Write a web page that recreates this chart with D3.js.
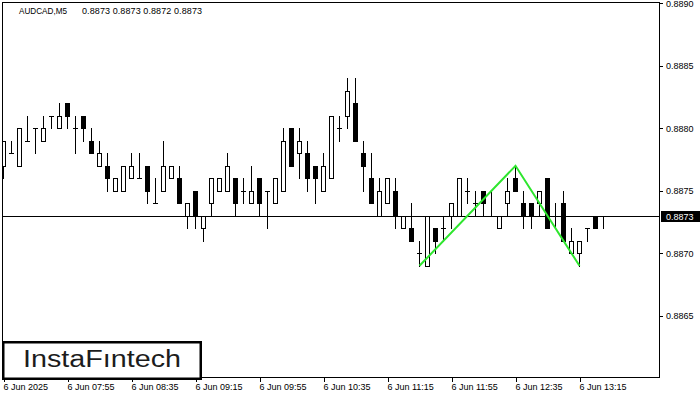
<!DOCTYPE html>
<html><head><meta charset="utf-8">
<script src="https://cdnjs.cloudflare.com/ajax/libs/d3/7.8.5/d3.min.js"></script>
<style>
html,body{margin:0;padding:0;background:#fff;}
svg{display:block;}
text{font-family:"Liberation Sans",Arial,sans-serif;}
</style></head><body>
<svg id="chart" width="700" height="400"></svg>
<script>
const chartSymbol = "AUDCAD,M5";
const chartOHLC = "0.8873 0.8873 0.8872 0.8873";
const opens  = [0.8877,0.8878,0.8877,0.8879,0.8880,0.8879,0.8881,0.8880,0.8882,0.8880,
                0.8881,0.8879,0.8877,0.8877,0.8875,0.8875,0.8876,0.8876,0.8877,0.8874,
                0.8875,0.8876,0.8876,0.8873,0.8875,0.8872,0.8874,0.8875,0.8875,0.8876,
                0.8875,0.8874,0.8876,0.8875,0.8874,0.8875,0.8880,0.8878,0.8878,0.8877,
                0.8875,0.8876,0.8880,0.8881,0.8882,0.8878,0.8876,0.8873,0.8874,0.8875,
                0.8872,0.8872,0.8870,0.8869,0.8872,0.8872,0.8873,0.8873,0.8875,0.8874,
                0.8875,0.8873,0.8872,0.8874,0.8876,0.8874,0.8874,0.8874,0.8876,0.8873,
                0.8874,0.8870,0.8870,0.8872,0.8873,0.8873];
const highs  = [0.8879,0.8879,0.8880,0.8881,0.8880,0.8881,0.8881,0.8882,0.8882,0.8881,
                0.8881,0.8880,0.8879,0.8878,0.8876,0.8877,0.8878,0.8878,0.8877,0.8876,
                0.8879,0.8877,0.8877,0.8874,0.8875,0.8873,0.8876,0.8876,0.8878,0.8876,
                0.8876,0.8877,0.8876,0.8875,0.8876,0.8880,0.8880,0.8880,0.8879,0.8877,
                0.8878,0.8881,0.8881,0.8884,0.8884,0.8879,0.8878,0.8876,0.8876,0.8876,
                0.8873,0.8874,0.8871,0.8873,0.8872,0.8873,0.8874,0.8876,0.8876,0.8875,
                0.8875,0.8875,0.8873,0.8876,0.8877,0.8875,0.8874,0.8875,0.8876,0.8874,
                0.8875,0.8872,0.8871,0.8872,0.8873,0.8873];
const lows   = [0.8876,0.8878,0.8877,0.8879,0.8878,0.8879,0.8880,0.8880,0.8880,0.8878,
                0.8879,0.8878,0.8877,0.8875,0.8875,0.8875,0.8876,0.8876,0.8874,0.8874,
                0.8875,0.8876,0.8874,0.8872,0.8872,0.8871,0.8873,0.8875,0.8875,0.8873,
                0.8874,0.8874,0.8873,0.8872,0.8874,0.8875,0.8877,0.8876,0.8875,0.8874,
                0.8875,0.8876,0.8879,0.8880,0.8879,0.8875,0.8874,0.8873,0.8874,0.8872,
                0.8872,0.8871,0.8869,0.8869,0.8870,0.8871,0.8872,0.8873,0.8874,0.8873,
                0.8873,0.8873,0.8872,0.8873,0.8875,0.8872,0.8872,0.8873,0.8872,0.8872,
                0.8871,0.8870,0.8869,0.8871,0.8872,0.8872];
const closes = [0.8879,0.8878,0.8880,0.8879,0.8880,0.8880,0.8881,0.8881,0.8881,0.8880,
                0.8880,0.8878,0.8878,0.8876,0.8876,0.8877,0.8877,0.8876,0.8875,0.8874,
                0.8877,0.8877,0.8874,0.8874,0.8873,0.8873,0.8876,0.8876,0.8877,0.8874,
                0.8875,0.8875,0.8874,0.8875,0.8876,0.8879,0.8877,0.8879,0.8876,0.8876,
                0.8877,0.8881,0.8880,0.8883,0.8879,0.8877,0.8874,0.8875,0.8876,0.8873,
                0.8873,0.8871,0.8870,0.8873,0.8871,0.8872,0.8874,0.8876,0.8875,0.8874,
                0.8874,0.8873,0.8873,0.8875,0.8875,0.8873,0.8873,0.8875,0.8872,0.8873,
                0.8871,0.8871,0.8871,0.8872,0.8872,0.8873];
const xTickIndex  = [0,8,16,24,32,40,48,56,64,72];
const xTickLabels = ["6 Jun 2025","6 Jun 07:55","6 Jun 08:35","6 Jun 09:15","6 Jun 09:55",
                     "6 Jun 10:35","6 Jun 11:15","6 Jun 11:55","6 Jun 12:35","6 Jun 13:15"];
const yTickValues = [0.8865,0.8870,0.8875,0.8880,0.8885,0.8890];
const currentPrice = 0.8873;
const patternIndex = [52,64,72];
const patternPrice = [0.8869,0.8877,0.8869];
const logoText = "InstaF\u0131ntech";

const svg = d3.select("#chart");
const x = d3.scaleLinear().domain([0, 75]).range([3.5, 603.5]);
const y = d3.scaleLinear().domain([0.8860, 0.8890]).range([378.3, 3.3]);
const ry = v => Math.round(y(v));

svg.append("defs").append("clipPath").attr("id","plotclip")
  .append("rect").attr("x",2).attr("y",2).attr("width",658).attr("height",376);

const candles = svg.append("g").attr("clip-path","url(#plotclip)")
  .attr("shape-rendering","crispEdges");

candles.append("line")
  .attr("x1",2).attr("x2",660)
  .attr("y1",ry(currentPrice)+0.5).attr("y2",ry(currentPrice)+0.5)
  .attr("stroke","#000").attr("stroke-width",1);

const data = opens.map((o,i)=>({i,o,h:highs[i],l:lows[i],c:closes[i]}));

data.forEach(d=>{
  const cx = x(d.i);
  const g = candles.append("g");
  g.append("line").attr("x1",cx).attr("x2",cx)
    .attr("y1",ry(d.h)).attr("y2",ry(d.l)+1)
    .attr("stroke","#000").attr("stroke-width",1);
  if (Math.abs(d.o-d.c) < 1e-7) {
    g.append("line").attr("x1",cx-2.5).attr("x2",cx+2.5)
      .attr("y1",ry(d.o)+0.5).attr("y2",ry(d.o)+0.5)
      .attr("stroke","#000").attr("stroke-width",1);
  } else if (d.c > d.o) {
    const t = ry(d.c), b = ry(d.o);
    g.append("rect").attr("x",cx-2).attr("width",4)
      .attr("y",t+0.5).attr("height",b-t)
      .attr("fill","#fff").attr("stroke","#000").attr("stroke-width",1);
  } else {
    const t = ry(d.o), b = ry(d.c);
    g.append("rect").attr("x",cx-2.5).attr("width",5)
      .attr("y",t).attr("height",b-t+1)
      .attr("fill","#000");
  }
});

const pts = patternIndex.map((d,k)=>[x(d), y(patternPrice[k])]);
svg.append("path").attr("d", d3.line()(pts))
  .attr("fill","none").attr("stroke","#2ee62e").attr("stroke-width",2)
  .attr("stroke-linejoin","miter");

svg.append("rect").attr("x",2.5).attr("y",2.5).attr("width",657).attr("height",375)
  .attr("fill","none").attr("stroke","#000").attr("stroke-width",1)
  .attr("shape-rendering","crispEdges");

const yAxis = d3.axisRight(y).tickValues(yTickValues).tickSize(3).tickPadding(3)
  .tickFormat(d3.format(".4f"));
const gy = svg.append("g").attr("transform","translate(660,0)").call(yAxis);
gy.select(".domain").remove();
gy.selectAll("line").attr("stroke","#000").attr("shape-rendering","crispEdges");
gy.selectAll("text").attr("fill","#000").attr("font-size",9)
  .attr("font-family","'Liberation Sans',Arial,sans-serif");

const xAxis = d3.axisBottom(x).tickValues(xTickIndex).tickSize(4).tickPadding(2)
  .tickFormat((d,k)=>xTickLabels[k]);
const gx = svg.append("g").attr("transform","translate(0,378)").call(xAxis);
gx.select(".domain").remove();
gx.selectAll("line").attr("stroke","#000").attr("shape-rendering","crispEdges");
gx.selectAll("text").attr("fill","#000").attr("font-size",9)
  .attr("text-anchor","start").attr("x",-0.5)
  .attr("font-family","'Liberation Sans',Arial,sans-serif");

const cy = ry(currentPrice);
svg.append("rect").attr("x",661).attr("y",cy-5).attr("width",39).attr("height",11)
  .attr("fill","#000");
svg.append("text").attr("x",666).attr("y",cy+0.5).attr("dy","0.34em")
  .attr("font-size",9).attr("fill","#fff").text(d3.format(".4f")(currentPrice));

svg.append("text").attr("x",19).attr("y",14).attr("font-size",9).attr("fill","#000")
  .attr("textLength",48).attr("lengthAdjust","spacingAndGlyphs").text(chartSymbol);
svg.append("text").attr("x",82).attr("y",14).attr("font-size",9).attr("fill","#000")
  .attr("textLength",120).text(chartOHLC);

svg.append("rect").attr("x",3.25).attr("y",342.25).attr("width",197.5).attr("height",36.5)
  .attr("fill","#fff").attr("stroke","#000").attr("stroke-width",2.5);
svg.append("text").attr("x",23).attr("y",367).attr("font-size",23)
  .attr("font-family","Inter,'Noto Sans',sans-serif").attr("font-weight",500)
  .attr("fill","#1c1c1c").attr("textLength",158).attr("lengthAdjust","spacingAndGlyphs")
  .text(logoText);
</script>
</body></html>
